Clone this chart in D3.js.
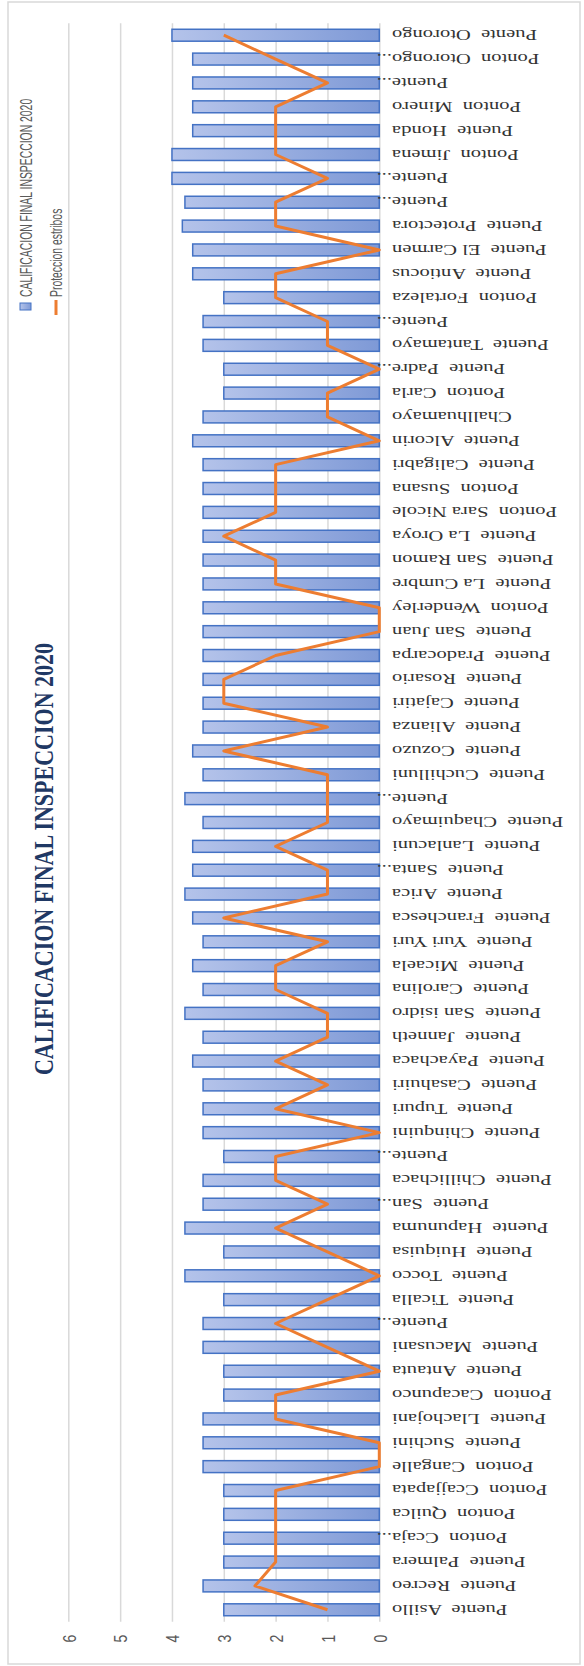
<!DOCTYPE html>
<html>
<head>
<meta charset="utf-8">
<script src="https://cdn.jsdelivr.net/npm/d3@7"></script>
<style>
  body { margin: 0; background: #fff; }
  text { white-space: pre; }
</style>
</head>
<body>
<svg id="chart"></svg>
<script>
// page size
const width = 584;
const height = 1666;

// categories, bottom to top (as labelled in the picture)
const categories = [
  "Puente  Asillo", "Puente  Recreo", "Puente  Palmera", "Ponton  Ccaja...", "Ponton  Quilca",
  "Ponton  Ccajjapata", "Ponton  Cangalle", "Puente  Suchini", "Puente  Llachojani", "Ponton  Cacapunco",
  "Puente  Antauta", "Puente  Macusani", "Puente...", "Puente  Ticalla", "Puente  Tocco",
  "Puente  Huiquisa", "Puente  Hapunuma", "Puente  San...", "Puente  Chillichaca", "Puente...",
  "Puente  Chinquini", "Puente  Tupuri", "Puente  Casahuiri", "Puente  Payachaca", "Puente  Janneth",
  "Puente  San isidro", "Puente  Carolina", "Puente  Micaela", "Puente  Yuri Yuri", "Puente  Franchesca",
  "Puente  Arica", "Puente  Santa...", "Puente  Lanlacuni", "Puente  Chaquimayo", "Puente...",
  "Puente  Cuchilluni", "Puente  Cozuzo", "Puente  Alianza", "Puente  Cajatiri", "Puente  Rosario",
  "Puente  Pradocarpa", "Puente  San Juan", "Ponton  Wenderley", "Puente  La Cumbre", "Puente  San Ramon",
  "Puente  La Oroya", "Ponton  Sara Nicole", "Ponton  Susana", "Puente  Caligabri", "Puente  Alcorin",
  "Challhuamayo", "Ponton  Carla", "Puente  Padre...", "Puente  Tantamayo", "Puente...",
  "Ponton  Fortaleza", "Puente  Antiocus", "Puente  El Carmen", "Puente  Protectora", "Puente...",
  "Puente...", "Ponton  Jimena", "Puente  Honda", "Ponton  Minero", "Puente...",
  "Ponton  Otorongo...", "Puente  Otorongo"
];

// CALIFICACION FINAL INSPECCION 2020 (bars)
const califValues = [
  3.0, 3.4, 3.0, 3.0, 3.0, 3.0, 3.4, 3.4, 3.4, 3.0,
  3.0, 3.4, 3.4, 3.0, 3.75, 3.0, 3.75, 3.4, 3.4, 3.0,
  3.4, 3.4, 3.4, 3.6, 3.4, 3.75, 3.4, 3.6, 3.4, 3.6,
  3.75, 3.6, 3.6, 3.4, 3.75, 3.4, 3.6, 3.4, 3.4, 3.4,
  3.4, 3.4, 3.4, 3.4, 3.4, 3.4, 3.4, 3.4, 3.4, 3.6,
  3.4, 3.0, 3.0, 3.4, 3.4, 3.0, 3.6, 3.6, 3.8, 3.75,
  4.0, 4.0, 3.6, 3.6, 3.6, 3.6, 4.0
];

// Proteccion estribos (line)
const proteccionValues = [
  1, 2.4, 2, 2, 2, 2, 0, 0, 2, 2,
  0, 1, 2, 1, 0, 1, 2, 1, 2, 2,
  0, 2, 1, 2, 1, 1, 2, 2, 1, 3,
  1, 1, 2, 1, 1, 1, 3, 1, 3, 3,
  2, 0, 0, 2, 2, 3, 2, 2, 2, 0,
  1, 1, 0, 1, 1, 2, 2, 0, 2, 2,
  1, 2, 2, 2, 1, 2, 3
];

const valueTicks = [0, 1, 2, 3, 4, 5, 6];
const chartTitle = "CALIFICACION FINAL INSPECCION 2020";
const seriesNames = ["CALIFICACION FINAL INSPECCION 2020", "Proteccion estribos"];

const svg = d3.select("#chart")
    .attr("width", width)
    .attr("height", height);

// chart frame
svg.append("rect")
    .attr("x", 8).attr("y", 2)
    .attr("width", 572).attr("height", 1662)
    .attr("fill", "#fff")
    .attr("stroke", "#d9d9d9")
    .attr("stroke-width", 1.5);

// plot area (the chart is turned on its side: values run right to left)
const plot = { left: 68.3, right: 379.3, top: 23.3, bottom: 1621.7 };

const x = d3.scaleLinear()
    .domain([0, 6])
    .range([plot.right, plot.left]);

const y = d3.scaleBand()
    .domain(d3.range(categories.length))
    .range([plot.bottom, plot.top])
    .paddingInner(0.5)
    .paddingOuter(0.25);

// gridlines
svg.append("g")
    .attr("class", "grid")
    .attr("transform", `translate(0, ${plot.bottom})`)
    .call(d3.axisBottom(x).tickValues(valueTicks).tickSize(-(plot.bottom - plot.top)).tickFormat(""))
    .call(g => g.select(".domain").remove())
    .call(g => g.selectAll("line").attr("stroke", "#d9d9d9").attr("stroke-width", 1.5));

// value tick labels
svg.append("g")
    .attr("class", "axis")
    .attr("transform", "translate(0, 1638.5)")
    .call(d3.axisBottom(x).tickValues(valueTicks).tickSize(0).tickFormat(d3.format("d")))
    .call(g => g.select(".domain").remove())
    .call(g => g.selectAll("text")
        .attr("y", 0).attr("dy", null)
        .attr("transform", "scale(1.3,1) rotate(-90)")
        .attr("text-anchor", "middle")
        .attr("dominant-baseline", "central")
        .attr("fill", "#595959")
        .attr("font-family", "'Liberation Sans', Arial, sans-serif")
        .attr("font-size", 14));

// bar gradient
const defs = svg.append("defs");
const grad = defs.append("linearGradient")
    .attr("id", "barGrad")
    .attr("x1", 0).attr("x2", 1).attr("y1", 0).attr("y2", 0);
grad.append("stop").attr("offset", "0%").attr("stop-color", "#b4c3ea");
grad.append("stop").attr("offset", "100%").attr("stop-color", "#7e99d6");

// bars
svg.append("g")
    .selectAll("rect")
    .data(califValues)
    .join("rect")
    .attr("x", d => x(d))
    .attr("y", (d, i) => y(i))
    .attr("width", d => x(0) - x(d))
    .attr("height", y.bandwidth())
    .attr("fill", "url(#barGrad)")
    .attr("stroke", "#4472c4")
    .attr("stroke-width", 1.5);

// line series
const line = d3.line()
    .x(d => x(d))
    .y((d, i) => y(i) + y.bandwidth() / 2);

svg.append("path")
    .datum(proteccionValues)
    .attr("d", line)
    .attr("fill", "none")
    .attr("stroke", "#ed7d31")
    .attr("stroke-width", 3)
    .attr("stroke-linejoin", "round");

// category labels, upside down
const labelFont = "'Liberation Serif', 'Times New Roman', serif";
const labels = svg.append("g")
    .selectAll("g")
    .data(categories)
    .join("g")
    .attr("transform", (d, i) => `translate(392, ${y(i) + y.bandwidth() / 2}) scale(1.37,1) rotate(180)`);

labels.append("text")
    .attr("text-anchor", "end")
    .attr("dominant-baseline", "central")
    .attr("fill", "#333")
    .attr("font-family", labelFont)
    .attr("font-size", 15)
    .text(d => d.replace("...", ""));

labels.filter(d => d.endsWith("..."))
    .append("text")
    .attr("text-anchor", "start")
    .attr("dominant-baseline", "central")
    .attr("fill", "#333")
    .attr("font-family", labelFont)
    .attr("font-size", 15)
    .text("...");

// title
svg.append("text")
    .attr("transform", "translate(44, 859) scale(1.23,1) rotate(-90)")
    .attr("text-anchor", "middle")
    .attr("dominant-baseline", "central")
    .attr("fill", "#1f3864")
    .attr("font-family", labelFont)
    .attr("font-weight", "bold")
    .attr("font-size", 22)
    .text(chartTitle);

// legend
const legendFont = "'Liberation Sans', Arial, sans-serif";
svg.append("rect")
    .attr("x", 20).attr("y", 303)
    .attr("width", 11).attr("height", 7)
    .attr("fill", "url(#barGrad)")
    .attr("stroke", "#4472c4")
    .attr("stroke-width", 1);

svg.append("line")
    .attr("x1", 56).attr("x2", 56)
    .attr("y1", 300).attr("y2", 315)
    .attr("stroke", "#ed7d31")
    .attr("stroke-width", 3);

svg.append("g")
    .selectAll("text")
    .data(seriesNames)
    .join("text")
    .attr("transform", (d, i) => `translate(${32 + i * 30}, 297) scale(1.57,1) rotate(-90)`)
    .attr("fill", "#595959")
    .attr("font-family", legendFont)
    .attr("font-size", 10.4)
    .text(d => d);
</script>
</body>
</html>
